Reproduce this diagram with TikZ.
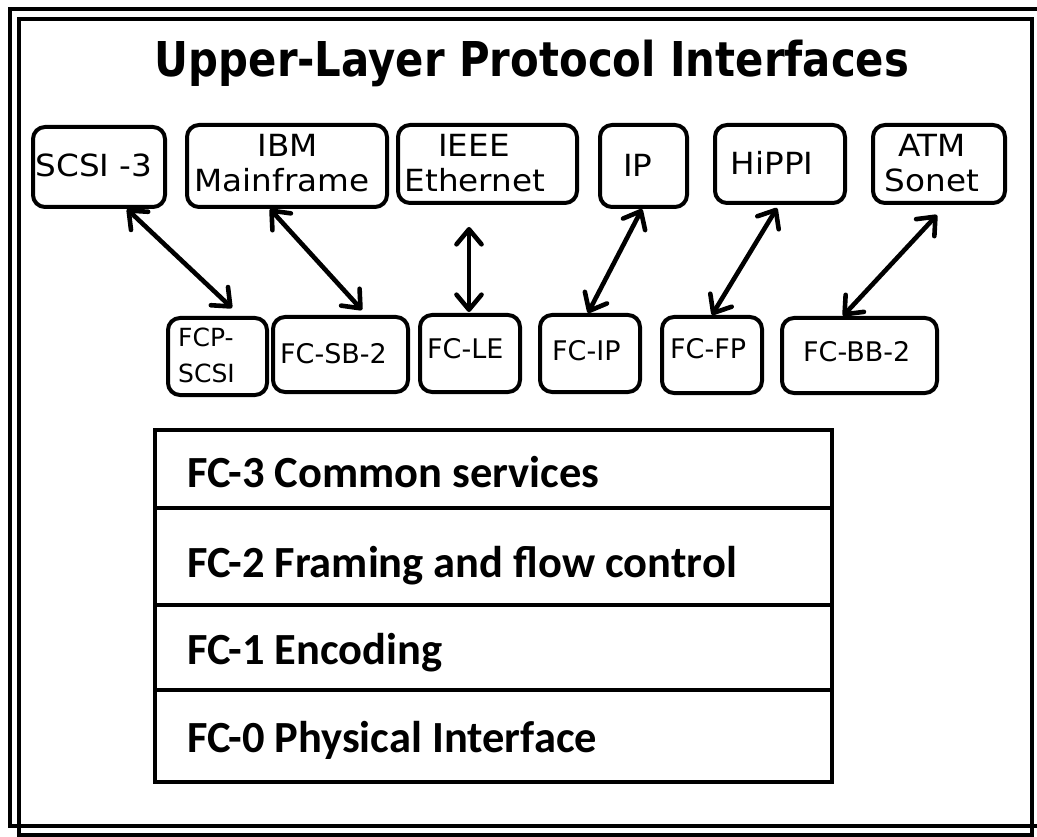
\documentclass[tikz,border=0pt]{standalone}
\usepackage{fontspec}
\usetikzlibrary{arrows.meta}
\newfontfamily\dvs{DejaVu Sans}
\newfontfamily\carl{Carlito}
\newcommand\sx[2][1.07]{\scalebox{#1}[1]{#2}}

\begin{document}
\begin{tikzpicture}[x=1pt,y=-1pt,
  frame/.style={draw, line width=4.5pt},
  pbox/.style={draw, line width=4pt, rounded corners=12pt, inner sep=0pt},
  toptxt/.style={font=\dvs\fontsize{30.5}{34}\selectfont, inner sep=0pt, anchor=base},
  midtxt/.style={font=\dvs\fontsize{27}{30}\selectfont, inner sep=0pt, anchor=base west},
  layer/.style={draw, line width=4pt, inner sep=0pt, minimum width=677pt},
  laytxt/.style={font=\carl\bfseries\fontsize{44.5}{50}\selectfont, inner sep=0pt, anchor=base west},
  barb/.tip={Straight Barb[length=15pt,width=25pt,line cap=round,line join=round]},
  link/.style={line width=4.6pt, barb-barb},
]
\useasboundingbox (0,0) rectangle (1037,837);
\clip (0,0) rectangle (1037,837);

% double outline
\draw[frame] (10,9) rectangle (1050,826);
\draw[frame] (19,19) rectangle (1032,835);

% heading
\node[font=\dvs\bfseries\fontsize{48}{56}\selectfont, anchor=base, inner sep=0pt]
  (title) at (532,77) {\sx[0.871]{Upper-Layer Protocol Interfaces}};

% upper-layer protocols
\node[pbox, minimum width=132pt, minimum height=80pt] (scsi)  at (99,167)   {};
\node[pbox, minimum width=200pt, minimum height=82pt] (ibm)   at (287,166)  {};
\node[pbox, minimum width=179pt, minimum height=78pt] (ieee)  at (487.5,164){};
\node[pbox, minimum width=87pt,  minimum height=82pt] (ip)    at (643.5,166){};
\node[pbox, minimum width=130pt, minimum height=78pt] (hippi) at (780,164)  {};
\node[pbox, minimum width=132pt, minimum height=78pt] (atm)   at (939,164)  {};

\node[toptxt] (scsiT)  at (94,177)  {\sx{SCSI -3}};
\node[toptxt] (ibmA)   at (288,157) {\sx{IBM}};
\node[toptxt] (ibmB)   at (282,192) {\sx{Mainframe}};
\node[toptxt] (ieeeA)  at (474,157) {\sx{IEEE}};
\node[toptxt] (ieeeB)  at (475,192) {\sx{Ethernet}};
\node[toptxt] (ipT)    at (638,177) {\sx{IP}};
\node[toptxt] (hippiT) at (772,175) {\sx{HiPPI}};
\node[toptxt] (atmA)   at (932,157) {\sx{ATM}};
\node[toptxt] (atmB)   at (932,192) {\sx{Sonet}};

% FC-4 mappings
\node[pbox, minimum width=99pt,  minimum height=77pt] (fcp)  at (217.5,356.5) {};
\node[pbox, minimum width=135pt, minimum height=75pt] (fcsb) at (340.5,354.5) {};
\node[pbox, minimum width=100pt, minimum height=77pt] (fcle) at (470,353.5)   {};
\node[pbox, minimum width=100pt, minimum height=77pt] (fcip) at (590,353.5)   {};
\node[pbox, minimum width=100pt, minimum height=76pt] (fcfp) at (712,355)     {};
\node[pbox, minimum width=155pt, minimum height=75pt] (fcbb) at (859.5,355.5) {};

\node[midtxt, font=\dvs\fontsize{25}{28}\selectfont] (fcpA) at (178,347) {FCP-};
\node[midtxt, font=\dvs\fontsize{25}{28}\selectfont] (fcpB) at (178,382) {SCSI};
\node[midtxt] (fcsbT) at (280,363) {FC-SB-2};
\node[midtxt] (fcleT) at (427,358) {FC-LE};
\node[midtxt] (fcipT) at (552,360) {FC-IP};
\node[midtxt] (fcfpT) at (670,358) {FC-FP};
\node[midtxt] (fcbbT) at (803,362) {FC-BB-2};

% links between protocols and mappings
\draw[link] ([xshift=28pt]scsi.south)  -- ([xshift=14.5pt,yshift=8pt]fcp.north);
\draw[link] ([xshift=-17pt]ibm.south)  -- ([xshift=21.5pt,yshift=5pt]fcsb.north);
\draw[link] ([xshift=-18.5pt,yshift=-22pt]ieee.south) -- ([xshift=-1pt,yshift=1pt]fcle.north);
\draw[link] ([xshift=-1.5pt]ip.south)  -- ([xshift=-2pt]fcip.north);
\draw[link] ([xshift=-3pt,yshift=-3pt]hippi.south) -- (fcfp.north);
\draw[link] ([xshift=-2pt,yshift=-10pt]atm.south) -- ([xshift=-16.5pt]fcbb.north);

% FC-3 .. FC-0 stack
\node[layer, minimum height=78pt] (fc3) at (493.5,469)   {};
\node[layer, minimum height=97pt] (fc2) at (493.5,556.5) {};
\node[layer, minimum height=85pt] (fc1) at (493.5,647.5) {};
\node[layer, minimum height=92pt] (fc0) at (493.5,736)   {};

\node[laytxt] (fc3T) at (187,487) {FC-3 Common services};
\node[laytxt] (fc2T) at (187,577) {FC-2 Framing and flow control};
\node[laytxt] (fc1T) at (187,664) {FC-1 Encoding};
\node[laytxt] (fc0T) at (187,752) {FC-0 Physical Interface};
\end{tikzpicture}
\end{document}
